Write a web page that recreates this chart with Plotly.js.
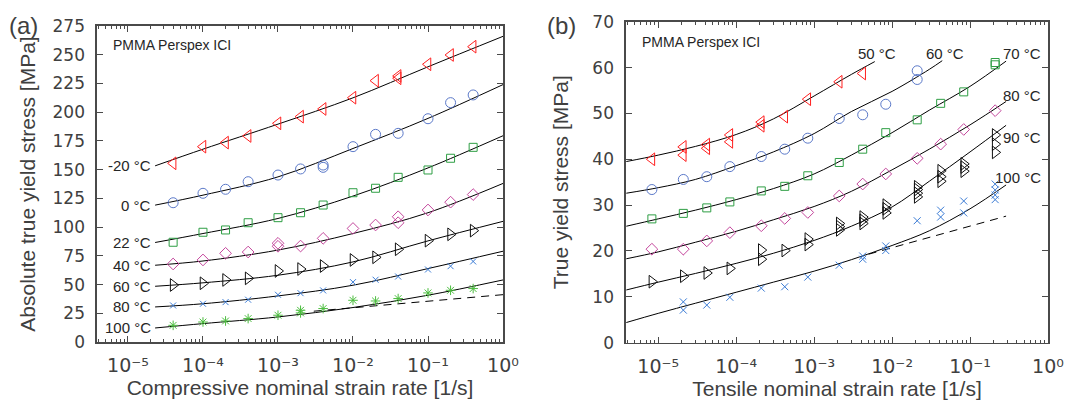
<!DOCTYPE html>
<html>
<head>
<meta charset="utf-8">
<script src="https://cdn.plot.ly/plotly-3.0.1.min.js"></script>
<style>html,body{margin:0;padding:0;background:#fff;}#chart{width:1073px;height:403px;}</style>
</head>
<body>
<div id="chart"></div>
<script>
// ---------------- DATA: panel (a) compression ----------------
const aM20x = [4e-5,1e-4,2e-4,4e-4,1e-3,2e-3,4e-3,1e-2,2e-2,4e-2,4e-2,0.1,0.2,0.4];
const aM20y = [155.5,170.0,173.5,179.3,190.3,196.1,202.8,212.6,227.4,229.5,231.5,241.7,249.8,257.0];
const a0x   = [4e-5,1e-4,2e-4,4e-4,1e-3,2e-3,4e-3,4e-3,1e-2,2e-2,4e-2,0.1,0.2,0.4];
const a0y   = [121.2,129.4,132.9,139.5,145.3,150.6,154.0,152.0,170.0,180.7,181.6,194.3,208.3,215.0];
const a22x  = [4e-5,1e-4,2e-4,4e-4,1e-3,2e-3,4e-3,1e-2,2e-2,4e-2,0.1,0.2,0.4];
const a22y  = [86.8,95.5,97.5,103.8,108.2,112.5,119.2,129.9,133.8,143.3,149.7,159.9,169.4];
const a40x  = [4e-5,1e-4,2e-4,4e-4,1e-3,1e-3,2e-3,4e-3,1e-2,2e-2,4e-2,4e-2,0.1,0.2,0.4];
const a40y  = [67.9,71.4,77.2,78.3,85.9,83.3,83.5,90.2,98.8,101.8,109.0,103.8,114.9,121.7,128.3];
const a60x  = [4e-5,1e-4,2e-4,4e-4,1e-3,2e-3,4e-3,1e-2,2e-2,4e-2,0.1,0.2,0.4];
const a60y  = [49.6,51.1,54.0,55.4,61.8,63.5,66.1,71.4,73.7,80.7,88.2,93.7,96.9];
const a80x  = [4e-5,1e-4,2e-4,4e-4,1e-3,2e-3,4e-3,1e-2,2e-2,4e-2,0.1,0.2,0.4];
const a80y  = [31.8,33.3,34.7,36.8,41.1,42.5,44.9,52.1,54.2,57.0,63.1,66.0,70.1];
const a100x = [4e-5,1e-4,2e-4,4e-4,1e-3,2e-3,2e-3,4e-3,1e-2,2e-2,4e-2,0.1,0.2,0.4];
const a100y = [14.5,17.4,18.3,20.4,23.3,27.6,25.3,29.1,36.3,35.7,37.8,42.7,45.0,46.5];

// model curves (panel a)
const aCurveX   = [2.3e-5,1e-4,1e-3,1e-2,1e-1,1];
const aCurveM20 = [153.3,167.8,189.6,212.5,239.5,266.0];
const aCurve0   = [119.1,127.8,143.7,168.4,194.6,224.0];
const aCurve22  = [86.6,94.4,107.5,127.0,151.5,179.5];
const aCurve40  = [66.8,70.5,80.0,94.4,112.5,138.0];
const aCurve60  = [48.5,51.5,58.1,69.7,88.0,105.0];
const aCurve80  = [30.5,33.3,40.1,49.4,63.9,79.0];
const aCurve100 = [12.2,16.0,21.8,30.0,40.7,54.0];
const aDashX = [3e-3,1];
const aDashY = [26.8,41.2];
const aLabels = ['-20 °C','0 °C','22 °C','40 °C','60 °C','80 °C','100 °C'];

// ---------------- DATA: panel (b) tension ----------------
const b50x  = [8.3e-6,2.1e-5,2.1e-5,4.2e-5,4.2e-5,8.3e-5,8.3e-5,2.1e-4,2.1e-4,4.2e-4,8.3e-4,2.1e-3,4.2e-3];
const b50y  = [40.0,42.7,40.9,43.2,42.4,45.3,43.8,48.1,47.3,49.3,53.1,56.9,58.7];
const b60x  = [8.3e-6,2.1e-5,4.2e-5,8.3e-5,2.1e-4,4.2e-4,8.3e-4,2.1e-3,4.2e-3,8.3e-3,2.1e-2,2.1e-2];
const b60y  = [33.4,35.6,36.2,38.4,40.6,42.2,44.6,48.9,49.7,52.0,57.4,59.3];
const b70x  = [8.3e-6,2.1e-5,4.2e-5,8.3e-5,2.1e-4,4.2e-4,8.3e-4,2.1e-3,4.2e-3,8.3e-3,2.1e-2,4.2e-2,8.3e-2,0.21,0.21];
const b70y  = [27.0,28.2,29.4,30.7,33.1,34.1,36.4,39.3,42.2,45.8,48.6,52.2,54.7,61.1,60.6];
const b80x  = [8.3e-6,2.1e-5,4.2e-5,8.3e-5,2.1e-4,4.2e-4,8.3e-4,2.1e-3,4.2e-3,8.3e-3,2.1e-2,4.2e-2,8.3e-2,0.21];
const b80y  = [20.4,20.4,22.2,24.0,25.5,27.1,28.4,32.0,34.6,36.8,40.2,43.3,46.5,50.6];
const b90x  = [8.3e-6,2.1e-5,4.2e-5,8.3e-5,2.1e-4,2.1e-4,4.2e-4,8.3e-4,8.3e-4,2.1e-3,2.1e-3,2.1e-3,4.2e-3,4.2e-3,4.2e-3,8.3e-3,8.3e-3,8.3e-3,2.1e-2,2.1e-2,2.1e-2,2.1e-2,4.2e-2,4.2e-2,4.2e-2,8.3e-2,8.3e-2,8.3e-2,0.21,0.21,0.21];
const b90y  = [13.3,14.5,15.2,16.2,18.2,20.2,20.1,21.4,22.6,24.6,25.3,26.0,26.0,26.7,27.4,28.3,29.2,30.0,31.8,32.6,33.4,34.0,35.2,36.2,37.5,37.4,38.3,39.0,41.5,43.3,45.3];
const b100x = [2.1e-5,2.1e-5,4.2e-5,8.3e-5,2.1e-4,4.2e-4,8.3e-4,2.1e-3,4.2e-3,4.2e-3,8.3e-3,8.3e-3,2.1e-2,4.2e-2,4.2e-2,8.3e-2,8.3e-2,0.21,0.21,0.21,0.21];
const b100y = [8.9,7.1,8.2,9.9,11.9,12.2,14.3,16.9,18.9,18.2,21.1,20.1,26.6,28.9,27.4,28.3,30.9,31.2,32.2,33.3,34.6];

// model curves (panel b)
const bCurve50x  = [3.9e-6,1e-5,3e-5,1e-4,3e-4,1e-3,3e-3,6e-3];
const bCurve50y  = [39.5,40.9,42.8,45.4,48.8,53.8,58.5,61.3];
const bCurve60x  = [3.9e-6,1e-5,3e-5,1e-4,3e-4,1e-3,3e-3,1e-2,3e-2,4.4e-2];
const bCurve60y  = [32.6,33.8,35.6,38.6,41.6,45.6,50.4,54.8,59.6,61.5];
const bCurveX    = [3.9e-6,1e-5,3e-5,1e-4,3e-4,1e-3,3e-3,1e-2,3e-2,1e-1,0.29];
const bCurve70y  = [25.4,27.0,28.9,31.2,33.6,36.8,40.9,45.8,50.7,55.9,61.4];
const bCurve80y  = [18.3,19.8,21.9,24.3,26.8,29.7,33.0,37.7,42.2,47.5,52.6];
const bCurve90y  = [11.5,13.2,15.1,17.3,19.5,22.3,25.4,29.6,35.2,41.6,47.4];
const bCurve100y = [4.4,6.4,8.6,11.0,13.2,15.6,18.1,21.2,24.4,29.2,34.4];
const bDashX = [5e-3,0.29];
const bDashY = [19.3,27.6];
const bLabels = ['50 °C','60 °C','70 °C','80 °C','90 °C','100 °C'];

// ticks
const xTickVals = [1e-5,1e-4,1e-3,1e-2,1e-1,1];
const xTickText = ['10\u207B\u2075','10\u207B\u2074','10\u207B\u00B3','10\u207B\u00B2','10\u207B\u00B9','10\u2070'];

// ---------------- build ----------------
const W = 1073, H = 403;
const FONT = 'Liberation Sans, Arial, Helvetica, sans-serif';
const TICKFONT = 'DejaVu Sans, Liberation Sans, sans-serif';
const AX = '#4a4a4a';
const minorVals = [];
for (let d = -6; d <= -1; d++) for (let k = 2; k <= 9; k++) minorVals.push(k * Math.pow(10, d));

function mk(x, y, sym, color, size, xa, ya, name) {
  return {x: x, y: y, type: 'scatter', mode: 'markers', name: name, xaxis: xa, yaxis: ya,
    marker: {symbol: sym, size: size, color: color, line: {width: 1, color: color}}, showlegend: false, hoverinfo: 'x+y'};
}
function ln(x, y, xa, ya, dash) {
  return {x: x, y: y, type: 'scatter', mode: 'lines', xaxis: xa, yaxis: ya,
    line: {color: '#000', width: 1, shape: dash ? 'linear' : 'spline', dash: dash ? '8px,6px' : 'solid'}, showlegend: false, hoverinfo: 'skip'};
}
const RED = '#ff1f1f', BLUE = '#5b79c9', GREEN = '#2e9e44', MAG = '#c4469c', BLK = '#111111', XBLUE = '#3a7bd5', AST = '#4cbd3f';

const traces = [
  ln(aCurveX, aCurveM20, 'x', 'y'), ln(aCurveX, aCurve0, 'x', 'y'), ln(aCurveX, aCurve22, 'x', 'y'),
  ln(aCurveX, aCurve40, 'x', 'y'), ln(aCurveX, aCurve60, 'x', 'y'), ln(aCurveX, aCurve80, 'x', 'y'),
  ln(aCurveX, aCurve100, 'x', 'y'), ln(aDashX, aDashY, 'x', 'y', true),
  mk(aM20x, aM20y, 'triangle-left-open', RED, 11, 'x', 'y', '-20 °C'),
  mk(a0x, a0y, 'circle-open', BLUE, 10, 'x', 'y', '0 °C'),
  mk(a22x, a22y, 'square-open', GREEN, 8, 'x', 'y', '22 °C'),
  mk(a40x, a40y, 'diamond-open', MAG, 9, 'x', 'y', '40 °C'),
  mk(a60x, a60y, 'triangle-right-open', BLK, 11, 'x', 'y', '60 °C'),
  mk(a80x, a80y, 'x-thin-open', XBLUE, 6, 'x', 'y', '80 °C'),
  mk(a100x, a100y, 'asterisk-open', AST, 8, 'x', 'y', '100 °C'),

  ln(bCurve50x, bCurve50y, 'x2', 'y2'), ln(bCurve60x, bCurve60y, 'x2', 'y2'),
  ln(bCurveX, bCurve70y, 'x2', 'y2'), ln(bCurveX, bCurve80y, 'x2', 'y2'),
  ln(bCurveX, bCurve90y, 'x2', 'y2'), ln(bCurveX, bCurve100y, 'x2', 'y2'),
  ln(bDashX, bDashY, 'x2', 'y2', true),
  mk(b50x, b50y, 'triangle-left-open', RED, 11, 'x2', 'y2', '50 °C'),
  mk(b60x, b60y, 'circle-open', BLUE, 10, 'x2', 'y2', '60 °C'),
  mk(b70x, b70y, 'square-open', GREEN, 8, 'x2', 'y2', '70 °C'),
  mk(b80x, b80y, 'diamond-open', MAG, 9, 'x2', 'y2', '80 °C'),
  mk(b90x, b90y, 'triangle-right-open', BLK, 11, 'x2', 'y2', '90 °C'),
  mk(b100x, b100y, 'x-thin-open', XBLUE, 7, 'x2', 'y2', '100 °C')
];

function xaxisDef(domain, anchor, title) {
  return {domain: domain, anchor: anchor, type: 'log', range: [-5.413, 0],
    tickmode: 'array', tickvals: xTickVals, ticktext: xTickText,
    ticks: 'inside', ticklen: 6, tickwidth: 1, tickcolor: AX,
    showline: true, linecolor: AX, linewidth: 1.6, mirror: 'ticks',
    showgrid: false, zeroline: false, ticklabelstandoff: 6,
    minor: {tickmode: 'array', tickvals: minorVals, ticks: 'inside', ticklen: 3, tickwidth: 1, tickcolor: AX, showgrid: false},
    tickfont: {family: TICKFONT, size: 19, color: '#404040'},
    title: {text: title, font: {family: FONT, size: 21, color: '#404040'}, standoff: 5}};
}
function yaxisDef(domain, anchor, range, dtick, title, standoff) {
  return {domain: domain, anchor: anchor, range: range, dtick: dtick, tick0: 0,
    ticks: 'inside', ticklen: 6, tickwidth: 1, tickcolor: AX,
    showline: true, linecolor: AX, linewidth: 1.6, mirror: 'ticks',
    showgrid: false, zeroline: false, ticklabelstandoff: 7,
    tickfont: {family: TICKFONT, size: 17, color: '#404040'},
    title: {text: title, font: {family: FONT, size: 21, color: '#404040'}, standoff: standoff}};
}

const annotations = [];
// (a) temperature labels at curve starts
const aStarts = [aCurveM20, aCurve0, aCurve22, aCurve40, aCurve60, aCurve80, aCurve100];
aLabels.forEach((t, i) => {
  annotations.push({text: t, x: Math.log10(aCurveX[0]), y: aStarts[i][0], xref: 'x', yref: 'y',
    xanchor: 'right', yanchor: 'middle', xshift: -2, showarrow: false,
    font: {family: FONT, size: 15, color: '#262626'}});
});
// (b) temperature labels (pixel placement)
const bLabPos = [[898, 53], [966, 53], [1043, 53], [1043, 95], [1043, 137], [1043, 177]];
bLabels.forEach((t, i) => {
  annotations.push({text: t, x: bLabPos[i][0] / W, y: 1 - bLabPos[i][1] / H, xref: 'paper', yref: 'paper',
    xanchor: 'right', yanchor: 'middle', showarrow: false,
    font: {family: FONT, size: 15, color: '#262626'}});
});
annotations.push({text: 'PMMA Perspex ICI', x: 0.034, y: 0.94, xref: 'x domain', yref: 'y domain',
  xanchor: 'left', yanchor: 'middle', showarrow: false, font: {family: FONT, size: 14, color: '#262626'}});
annotations.push({text: 'PMMA Perspex ICI', x: 0.033, y: 0.938, xref: 'x2 domain', yref: 'y2 domain',
  xanchor: 'left', yanchor: 'middle', showarrow: false, font: {family: FONT, size: 14, color: '#262626'}});
annotations.push({text: '(a)', x: 23 / W, y: 1 - 25 / H, xref: 'paper', yref: 'paper',
  xanchor: 'center', yanchor: 'middle', showarrow: false, font: {family: FONT, size: 24, color: '#404040'}});
annotations.push({text: '(b)', x: 561 / W, y: 1 - 25 / H, xref: 'paper', yref: 'paper',
  xanchor: 'center', yanchor: 'middle', showarrow: false, font: {family: FONT, size: 24, color: '#404040'}});

const layout = {
  width: W, height: H, margin: {l: 0, r: 0, t: 0, b: 0}, paper_bgcolor: '#fff', plot_bgcolor: '#fff',
  showlegend: false, font: {family: FONT, size: 15},
  xaxis: xaxisDef([97 / W, 503 / W], 'y', 'Compressive nominal strain rate [1/s]'),
  yaxis: yaxisDef([1 - 342 / H, 1 - 26 / H], 'x', [0, 275], 25, 'Absolute true yield stress [MPa]', 11),
  xaxis2: xaxisDef([626 / W, 1048 / W], 'y2', 'Tensile nominal strain rate [1/s]'),
  yaxis2: yaxisDef([1 - 342.7 / H, 1 - 21.7 / H], 'x2', [0, 70], 10, 'True yield stress [MPa]', 18),
  annotations: annotations
};
Plotly.newPlot('chart', traces, layout, {displayModeBar: false, staticPlot: true});
</script>
</body>
</html>
